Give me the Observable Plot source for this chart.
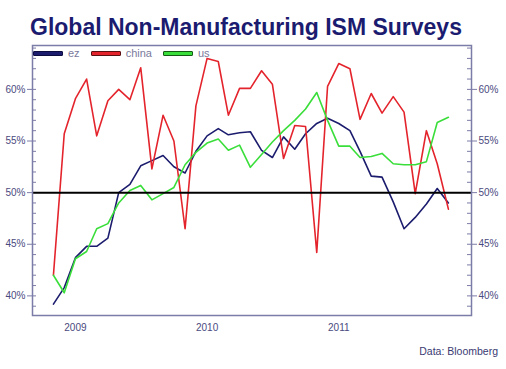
<!DOCTYPE html>
<html>
<head>
<meta charset="utf-8">
<script src="https://cdn.jsdelivr.net/npm/d3@7"></script>
<script src="https://cdn.jsdelivr.net/npm/@observablehq/plot@0.6"></script>
<style>
  html, body { margin: 0; padding: 0; background: #fff; }
  #wrap { position: relative; width: 506px; height: 369px; overflow: hidden; font-family: "Liberation Sans", Arial, sans-serif; }
  #title { position: absolute; left: 30px; top: 14px; font-size: 23px; font-weight: bold; color: #1b1b70; white-space: nowrap; line-height: 26px; }
  #chart { position: absolute; left: 0; top: 40px; }
  #legend { position: absolute; left: 33px; top: 47px; display: flex; align-items: center; font-size: 11px; color: #7a7a9c; line-height: 12px; }
  #legend .item { display: flex; align-items: center; margin-right: 11px; }
  #legend .sw { width: 28px; height: 3px; border: 1px solid; border-radius: 1px; margin-right: 5px; }
  #caption { position: absolute; right: 8px; top: 345px; font-size: 10.5px; color: #3a3a72; }
</style>
</head>
<body>
<div id="wrap">
  <div id="title">Global Non-Manufacturing ISM Surveys</div>
  <div id="chart"></div>
  <div id="legend"></div>
  <div id="caption">Data: Bloomberg</div>
</div>
<script>
// ---- data (monthly, Nov 2008 .. Nov 2011) ----
const startMonth = "2008-11-01";
const endMonth = "2011-12-01";
const seriesNames = ["ez", "china", "us"];
const seriesColors = ["#1c1c6e", "#e4242c", "#3ade3a"];
const swatchBorders = ["#0c0c40", "#5a1010", "#145a14"];

const ez = [39.2, 40.8, 43.7, 44.8, 44.8, 45.6, 50.0, 50.8, 52.6, 53.1,
            53.6, 52.5, 51.9, 54.0, 55.5, 56.2, 55.6, 55.8, 55.9, 54.1,
            53.4, 55.4, 54.2, 55.7, 56.7, 57.2, 56.7, 56.0, 54.0, 51.6,
            51.5, 49.1, 46.5, 47.6, 48.9, 50.4, 49.0];
const china = [42.0, 55.7, 59.1, 61.0, 55.5, 58.9, 60.0, 59.0, 62.1, 52.3,
               57.5, 55.0, 46.5, 58.4, 63.0, 62.7, 57.5, 60.1, 60.1, 61.8,
               60.5, 53.3, 56.5, 56.4, 44.2, 60.3, 62.5, 62.0, 57.1, 59.6,
               57.7, 59.3, 57.8, 49.9, 56.0, 52.8, 48.4];
const us = [42.0, 40.3, 43.6, 44.3, 46.5, 47.0, 49.0, 50.2, 50.7, 49.3,
            49.9, 50.5, 52.7, 53.9, 54.8, 55.2, 54.1, 54.6, 52.45, 53.7,
            54.9, 56.0, 57.0, 58.1, 59.7, 57.0, 54.5, 54.5, 53.4, 53.5,
            53.8, 52.8, 52.7, 52.7, 53.0, 56.8, 57.3];

const yearTicks = ["2009-01-01", "2010-01-01", "2011-01-01"];
const yearLabels = ["2009", "2010", "2011"];
const yMajorTicks = [40, 45, 50, 55, 60];
const yMinorTicks = d3.range(39, 65);
const refLevel = 50;

// ---- build table ----
const months = d3.utcMonths(new Date(startMonth), new Date(endMonth));
const valuesBySeries = { ez, china, us };
const rows = [];
for (const s of seriesNames) {
  valuesBySeries[s].forEach((v, i) => rows.push({ date: months[i], value: v, series: s }));
}
const yearDates = yearTicks.map(d => new Date(d));
const fmtYear = d => yearLabels[yearDates.findIndex(t => +t === +d)];

const W = 506, H = 300, mL = 32, mR = 35;
const plotW = W - mL - mR;
const axisColor = "#7c7ca8";

const chart = Plot.plot({
  width: W,
  height: H,
  marginTop: 5,
  marginBottom: 25,
  marginLeft: mL,
  marginRight: mR,
  style: { fontFamily: "'Liberation Sans', Arial, sans-serif", fontSize: "10px", color: "#4a4a7e", background: "white" },
  x: { type: "utc", domain: [new Date("2008-09-04"), new Date("2012-01-04")] },
  y: { domain: [38.1, 64.25] },
  color: { domain: seriesNames, range: seriesColors },
  marks: [
    Plot.axisX({ ticks: yearDates, tickFormat: fmtYear, tickSize: 0, tickPadding: 8, label: null }),
    Plot.axisY({ anchor: "left", ticks: yMajorTicks, tickFormat: d => d + "%", tickSize: 5, tickPadding: 2, stroke: axisColor, label: null }),
    Plot.axisY({ anchor: "right", ticks: yMajorTicks, tickFormat: d => d + "%", tickSize: 5, tickPadding: 2, stroke: axisColor, label: null }),
    Plot.tickY(yMinorTicks, { y: d => d, stroke: axisColor, insetRight: plotW - 4 }),
    Plot.tickY(yMinorTicks, { y: d => d, stroke: axisColor, insetLeft: plotW - 4 }),
    Plot.line(rows, { x: "date", y: "value", z: "series", stroke: "series", strokeWidth: 1.6 }),
    Plot.ruleY([refLevel], { stroke: "black", strokeWidth: 2 }),
    Plot.frame({ stroke: axisColor, strokeWidth: 1.5 })
  ]
});
document.getElementById("chart").appendChild(chart);

// ---- legend ----
const legend = document.getElementById("legend");
seriesNames.forEach((s, i) => {
  const item = document.createElement("div");
  item.className = "item";
  const sw = document.createElement("div");
  sw.className = "sw";
  sw.style.background = seriesColors[i];
  sw.style.borderColor = swatchBorders[i];
  const t = document.createElement("span");
  t.textContent = s;
  item.appendChild(sw);
  item.appendChild(t);
  legend.appendChild(item);
});
</script>
</body>
</html>
